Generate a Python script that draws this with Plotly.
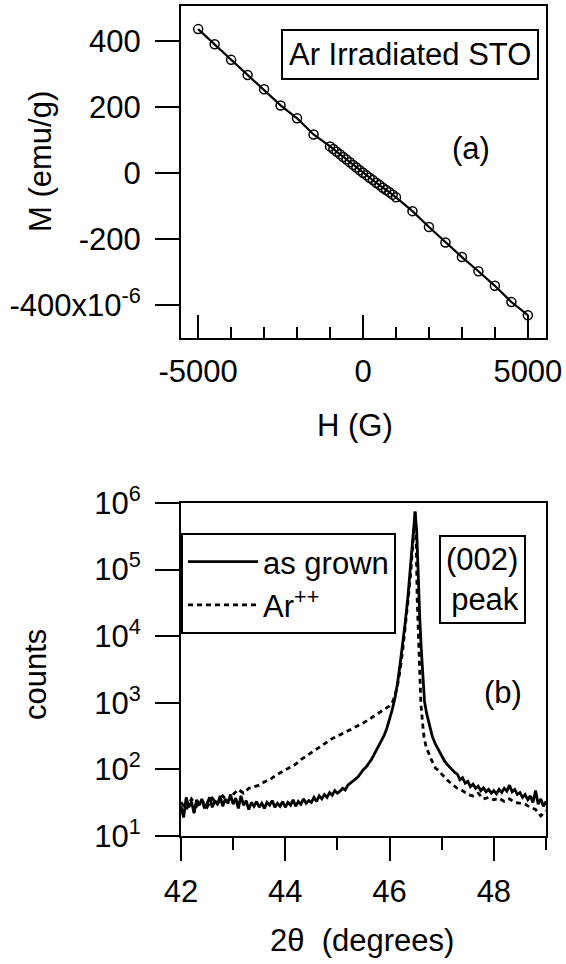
import plotly.graph_objects as go

# ---------------- data: panel (a) ----------------
H_gauss = [-5000, -4500, -4000, -3500, -3000, -2500, -2000, -1500,
           -1000, -900, -800, -700, -600, -500, -400, -300, -200, -100, 0,
           100, 200, 300, 400, 500, 600, 700, 800, 900, 1000,
           1500, 2000, 2500, 3000, 3500, 4000, 4500, 5000]
M_micro = [435, 389, 342, 296, 253, 204, 165, 116,
           80, 72, 64, 56, 48, 40, 32, 24, 16, 8, 0,
           -7, -15, -22, -30, -37, -45, -52, -59, -66, -74,
           -116, -164, -211, -255, -298, -342, -391, -431]

# ---------------- data: panel (b) ----------------
tt_grown = [42.00, 42.05, 42.10, 42.15, 42.20, 42.25, 42.30, 42.35, 42.40, 42.45,
            42.50, 42.55, 42.60, 42.65, 42.70, 42.75, 42.80, 42.85, 42.90, 42.95,
            43.00, 43.05, 43.10, 43.15, 43.20, 43.25, 43.30, 43.35, 43.40, 43.45,
            43.50, 43.55, 43.60, 43.65, 43.70, 43.75, 43.80, 43.85, 43.90, 43.95,
            44.00, 44.05, 44.10, 44.15, 44.20, 44.25, 44.30, 44.35, 44.40, 44.45,
            44.50, 44.55, 44.60, 44.65, 44.70, 44.75, 44.80, 44.85, 44.90, 44.95,
            45.00, 45.05, 45.10, 45.15, 45.20, 45.25, 45.30, 45.35, 45.40, 45.45,
            45.50, 45.55, 45.60, 45.65, 45.70, 45.75, 45.80, 45.85, 45.90, 45.95,
            46.00, 46.05, 46.10, 46.15, 46.20, 46.25, 46.30, 46.35, 46.40, 46.43,
            46.46, 46.49, 46.52, 46.55, 46.58, 46.61, 46.64, 46.67, 46.71, 46.76,
            46.82, 46.88, 46.94, 47.00, 47.05, 47.10, 47.15, 47.20, 47.25, 47.30,
            47.35, 47.40, 47.45, 47.50, 47.55, 47.60, 47.65, 47.70, 47.75, 47.80,
            47.85, 47.90, 47.95, 48.00, 48.05, 48.10, 48.15, 48.20, 48.25, 48.30,
            48.35, 48.40, 48.45, 48.50, 48.55, 48.60, 48.65, 48.70, 48.75, 48.80,
            48.85, 48.90, 48.95, 49.00]
counts_grown = [28, 19, 38, 27, 33, 22, 35, 29, 36, 26,
                31, 38, 27, 34, 30, 40, 28, 36, 31, 42,
                30, 37, 26, 40, 29, 34, 25, 32, 28, 33,
                27, 31, 26, 32, 29, 34, 27, 31, 28, 33,
                27, 32, 29, 35, 28, 33, 30, 36, 31, 34,
                32, 38, 33, 40, 36, 42, 38, 45, 41, 48,
                44, 47, 52, 49, 58, 62, 66, 72, 78, 88,
                100, 108, 122, 140, 165, 195, 230, 275, 330, 420,
                560, 780, 1150, 1900, 3700, 7500, 16000, 38000, 110000, 220000,
                420000, 740000, 380000, 60000, 18000, 6000, 2400, 1050, 700, 460,
                310, 240, 195, 165, 135, 120, 108, 100, 90, 85,
                70, 75, 62, 66, 55, 60, 52, 56, 48, 53,
                46, 50, 44, 48, 43, 50, 45, 52, 47, 58,
                46, 50, 42, 45, 38, 42, 35, 40, 32, 48,
                30, 36, 28, 33]

tt_ar = [42.0, 42.1, 42.2, 42.3, 42.4, 42.5, 42.6, 42.7, 42.8, 42.9,
         43.0, 43.1, 43.2, 43.3, 43.4, 43.5, 43.6, 43.7, 43.8, 43.9,
         44.0, 44.1, 44.2, 44.3, 44.4, 44.5, 44.6, 44.7, 44.8, 44.9,
         45.0, 45.1, 45.2, 45.3, 45.4, 45.5, 45.6, 45.7, 45.8, 45.9,
         46.0, 46.05, 46.1, 46.15, 46.2, 46.25, 46.3, 46.35, 46.4, 46.44,
         46.47, 46.49, 46.51, 46.53, 46.56, 46.58, 46.6, 46.63, 46.66, 46.7,
         46.75, 46.8, 46.88, 46.95, 47.0, 47.1, 47.2, 47.3, 47.4, 47.5,
         47.6, 47.7, 47.8, 47.9, 48.0, 48.1, 48.2, 48.3, 48.4, 48.5,
         48.6, 48.7, 48.8, 48.9, 49.0]
counts_ar = [32, 25, 36, 28, 34, 27, 37, 30, 40, 33,
             42, 50, 44, 52, 55, 58, 65, 70, 80, 88,
             97, 108, 120, 140, 158, 180, 205, 232, 260, 290,
             315, 345, 375, 410, 450, 500, 560, 630, 700, 780,
             900, 1000, 1250, 1800, 3000, 6000, 13000, 32000, 80000, 180000,
             420000, 740000, 300000, 35000, 6000, 3000, 1000, 520, 310, 220,
             170, 140, 105, 95, 85, 70, 60, 52, 48, 42,
             40, 44, 36, 38, 35, 37, 33, 36, 32, 31,
             30, 27, 25, 20, 24]

y_tickvals_a = [-400, -200, 0, 200, 400]
y_ticktext_a = ["-400x10<sup>-6</sup>", "-200", "0", "200", "400"]
x_tickvals_a = [-5000, 0, 5000]
x_ticktext_a = ["-5000", "0", "5000"]
y_tickvals_b = [1e1, 1e2, 1e3, 1e4, 1e5, 1e6]
y_ticktext_b = ["10<sup>1</sup>", "10<sup>2</sup>", "10<sup>3</sup>",
                "10<sup>4</sup>", "10<sup>5</sup>", "10<sup>6</sup>"]
x_tickvals_b = [42, 44, 46, 48]

# ---------------- figure ----------------
W, Hpx = 566, 964
FONT = "Liberation Sans, Arial, Helvetica, sans-serif"
FS = 31

def px_x(p):
    return p / W

def px_y(p):
    return 1 - p / Hpx

fig = go.Figure()

fig.add_trace(go.Scatter(
    x=H_gauss, y=M_micro, mode="lines+markers",
    line=dict(color="black", width=2.2),
    marker=dict(symbol="circle-open", size=9, color="black", line=dict(width=1.5)),
    xaxis="x", yaxis="y", showlegend=False))

fig.add_trace(go.Scatter(
    x=tt_grown, y=counts_grown, mode="lines", name="as grown",
    line=dict(color="black", width=2.8),
    xaxis="x2", yaxis="y2"))
fig.add_trace(go.Scatter(
    x=tt_ar, y=counts_ar, mode="lines", name="Ar<sup>++</sup>",
    line=dict(color="black", width=2.8, dash="5px,4px"),
    xaxis="x2", yaxis="y2"))

axis_common = dict(showline=True, linewidth=2, linecolor="black", mirror=True,
                   showgrid=False, zeroline=False, tickwidth=2, tickcolor="black",
                   tickfont=dict(family=FONT, size=FS, color="black"), automargin=False)

fig.update_layout(
    width=W, height=Hpx,
    margin=dict(l=0, r=0, t=0, b=0),
    paper_bgcolor="white", plot_bgcolor="white",
    font=dict(family=FONT, size=FS, color="black"),
    xaxis=dict(domain=[px_x(181), px_x(546)], anchor="y", range=[-5520, 5550],
               tickmode="array", tickvals=x_tickvals_a, ticktext=x_ticktext_a,
               ticks="inside", ticklen=23, ticklabelstandoff=5,
               minor=dict(ticks="inside", ticklen=11, dtick=1000, tick0=0,
                          tickwidth=2, tickcolor="black", showgrid=False),
               **axis_common),
    yaxis=dict(domain=[px_y(338), px_y(6)], anchor="x", range=[-500, 505],
               tickmode="array", tickvals=y_tickvals_a, ticktext=y_ticktext_a,
               ticks="outside", ticklen=24, ticklabelstandoff=8,
               **axis_common),
    xaxis2=dict(domain=[px_x(181), px_x(546)], anchor="y2", range=[42, 49],
                tickmode="array", tickvals=x_tickvals_b, ticks="outside", ticklen=23,
                ticklabelstandoff=4,
                minor=dict(ticks="outside", ticklen=12, dtick=1, tick0=42,
                           tickwidth=2, tickcolor="black", showgrid=False),
                **axis_common),
    yaxis2=dict(domain=[px_y(836), px_y(503)], anchor="x2", type="log", range=[1, 6],
                tickmode="array", tickvals=y_tickvals_b, ticktext=y_ticktext_b,
                ticks="outside", ticklen=24, ticklabelstandoff=8,
                **axis_common),
    showlegend=True,
    legend=dict(x=px_x(181), y=px_y(533), xanchor="left", yanchor="top",
                xref="paper", yref="paper",
                bgcolor="white", bordercolor="black", borderwidth=2,
                font=dict(family=FONT, size=FS, color="black"),
                itemwidth=70, tracegroupgap=0),
)

def ann(text, cx, cy, angle=0, **kw):
    fig.add_annotation(text=text, x=px_x(cx), y=px_y(cy), xref="paper", yref="paper",
                       xanchor="center", yanchor="middle", showarrow=False,
                       textangle=angle, font=dict(family=FONT, size=FS, color="black"), **kw)

ann("M (emu/g)", 40, 162, angle=-90)
ann("H (G)", 355, 425)
ann("counts", 35, 675, angle=-90)
ann("2θ\u00a0 (degrees)", 362, 940)
ann("(a)", 471, 148)
ann("(b)", 503, 692)
ann("Ar Irradiated STO", 409.5, 54, bordercolor="black", borderwidth=2,
    borderpad=6, bgcolor="white")
ann("(002)<br>peak", 482.5, 579.5, align="right", bordercolor="black",
    borderwidth=2, borderpad=5, bgcolor="white")

fig.write_html("out.html")
